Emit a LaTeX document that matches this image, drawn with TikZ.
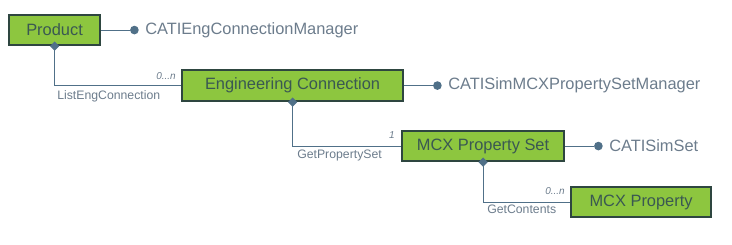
\documentclass[tikz,border=0pt]{standalone}
\usepackage{fontspec}
\setmainfont{Liberation Sans}
\usepackage{xcolor}
\usetikzlibrary{arrows.meta, positioning}

\definecolor{boxgreen}{RGB}{141,198,63}
\definecolor{boxedge}{RGB}{46,70,64}
\definecolor{boxtext}{RGB}{58,88,82}
\definecolor{linkblue}{RGB}{80,112,136}
\definecolor{itftext}{RGB}{108,124,140}

\tikzset{
  objbox/.style={draw=boxedge, line width=1.6pt, fill=boxgreen, text=boxtext,
    font=\fontsize{12.3}{14}\selectfont, inner sep=0pt, anchor=north west},
  itfdot/.style={circle, fill=linkblue, inner sep=0pt, minimum size=6.5pt},
  itfname/.style={text=itftext, font=\fontsize{12.3}{14}\selectfont, inner sep=0pt},
  link/.style={draw=linkblue, line width=0.8pt},
  aggr/.style={link, {Diamond[length=7pt, width=7pt]}-},
  methname/.style={text=itftext, font=\fontsize{9.2}{11}\selectfont, inner sep=0pt},
  mult/.style={text=itftext, font=\itshape\fontsize{7.5}{9}\selectfont, inner sep=0pt}
}

\begin{document}
\begin{tikzpicture}[x=0.75pt, y=-0.75pt]
  \useasboundingbox (0,0) rectangle (732,245);

  % classes
  \node[objbox, minimum width=91*0.75pt, minimum height=30*0.75pt] (prod) at (8,14) {Product};
  \node[objbox, minimum width=221*0.75pt, minimum height=31*0.75pt] (eng) at (181,69) {Engineering Connection};
  \node[objbox, minimum width=162*0.75pt, minimum height=30*0.75pt] (pset) at (401,130) {MCX Property Set};
  \node[objbox, minimum width=140*0.75pt, minimum height=30*0.75pt] (prop) at (570,186) {MCX Property};

  % interfaces
  \node[itfdot, right=21.5pt of prod] (d1) {};
  \node[itfname, right=4.5pt of d1] (i1) {CATIEngConnectionManager};
  \node[itfdot, right=21.5pt of eng] (d2) {};
  \node[itfname, right=4.5pt of d2] (i2) {CATISimMCXPropertySetManager};
  \node[itfdot, right=21.5pt of pset] (d3) {};
  \node[itfname, right=4.5pt of d3] (i3) {CATISimSet};

  \draw[link] (prod) -- (d1);
  \draw[link] (eng) -- (d2);
  \draw[link] (pset) -- (d3);

  % aggregations
  \draw[aggr] ([yshift=3.5pt]prod.south) |- (eng.west);
  \draw[aggr] ([yshift=3.5pt]eng.south) |- (pset.west);
  \draw[aggr] ([yshift=3.5pt]pset.south) |- (prop.west);

  \node[methname, anchor=north west] (m1) at (57,90) {ListEngConnection};
  \node[methname, anchor=north west] (m2) at (297,150) {GetPropertySet};
  \node[methname, anchor=north west] (m3) at (487,205) {GetContents};

  \node[mult, anchor=south east] (n1) at (176,80) {0...n};
  \node[mult, anchor=south east] (n2) at (395,139) {1};
  \node[mult, anchor=south east] (n3) at (565,195) {0...n};
\end{tikzpicture}
\end{document}
